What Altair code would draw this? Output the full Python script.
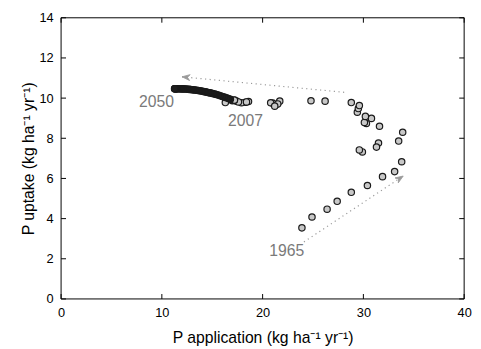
import altair as alt
import pandas as pd

# Historical (1965-2007) and projected (2008-2050) P application vs uptake
hist_x = [23.9, 24.9, 26.4, 27.4, 28.8, 30.4, 31.9, 33.1, 33.8, 33.5,
          33.9, 31.5, 31.3, 29.9, 29.6, 31.6, 30.8, 30.3, 30.1, 30.2,
          29.4, 29.5, 29.6, 28.8, 26.2, 24.8, 21.7, 21.3, 21.0, 21.5,
          20.8, 21.2, 18.6, 18.3, 17.9, 18.4, 17.4, 17.6, 16.3, 17.0,
          17.2, 16.9, 17.2]
hist_y = [3.54, 4.08, 4.47, 4.86, 5.31, 5.65, 6.09, 6.34, 6.83, 7.86,
          8.30, 7.76, 7.56, 7.32, 7.42, 8.60, 8.99, 8.74, 8.79, 9.09,
          9.30, 9.48, 9.63, 9.78, 9.85, 9.87, 9.85, 9.67, 9.75, 9.71,
          9.77, 9.60, 9.83, 9.79, 9.77, 9.81, 9.85, 9.81, 9.78, 9.87,
          9.89, 9.90, 9.90]
proj_x = [16.8, 16.6, 16.4, 16.2, 16.0, 15.8, 15.6, 15.4, 15.25, 15.1,
          14.95, 14.8, 14.65, 14.5, 14.35, 14.2, 14.05, 13.9, 13.75, 13.6,
          13.45, 13.3, 13.15, 13.0, 12.86, 12.72, 12.58, 12.44, 12.3, 12.17,
          12.04, 11.92, 11.8, 11.7, 11.6, 11.52, 11.45, 11.4, 11.36, 11.33,
          11.3, 11.28, 11.26]
proj_y = [9.94, 9.98, 10.02, 10.05, 10.08, 10.12, 10.15, 10.18, 10.20, 10.22,
          10.24, 10.26, 10.27, 10.29, 10.31, 10.32, 10.34, 10.35, 10.37, 10.38,
          10.39, 10.40, 10.41, 10.42, 10.43, 10.435, 10.44, 10.45, 10.45, 10.46,
          10.46, 10.46, 10.465, 10.47, 10.47, 10.47, 10.47, 10.47, 10.47, 10.47,
          10.47, 10.47, 10.47]

# Annotations
label_text = ["2050", "2007", "1965"]
label_x = [9.46, 18.3, 22.4]
label_y = [9.79, 8.86, 2.40]

# Dotted arrows (start, end)
arrow_id = ["up", "up", "low", "low"]
arrow_x = [28.3, 12.0, 24.1, 33.95]
arrow_y = [10.28, 11.06, 2.84, 6.12]
head_x = [12.0, 33.95]
head_y = [11.06, 6.12]
head_angle = [185.5, 326.4]

# Tick values
xvals = [0, 10, 20, 30, 40]
yvals = [0, 2, 4, 6, 8, 10, 12, 14]

pts = pd.DataFrame({
    "x": hist_x + proj_x,
    "y": hist_y + proj_y,
    "period": ["hist"] * len(hist_x) + ["proj"] * len(proj_x),
})
labels = pd.DataFrame({"t": label_text, "x": label_x, "y": label_y})
arrows = pd.DataFrame({"id": arrow_id, "x": arrow_x, "y": arrow_y})
heads = pd.DataFrame({"x": head_x, "y": head_y, "a": head_angle})
xt = pd.DataFrame({"x": xvals})
yt = pd.DataFrame({"y": yvals})
one = pd.DataFrame({"f": [0]})

W, H = 410, 286
TL = 5
FONT = "Liberation Sans"
xs = alt.Scale(domain=[0, 40], nice=False, zero=False)
ys = alt.Scale(domain=[0, 14], nice=False, zero=False)

ax_main_x = alt.Axis(values=xvals, ticks=False, domain=False, grid=False,
                     labelFlush=False, labelPadding=8, labelFontSize=13, labelColor="black",
                     labelFont=FONT, title="P application (kg ha⁻¹ yr⁻¹)", titleFont=FONT,
                     titleFontSize=16, titleFontWeight="normal", titleColor="black", titlePadding=10)
ax_main_y = alt.Axis(values=yvals, ticks=False, domain=False, grid=False,
                     labelPadding=8, labelFontSize=13, labelColor="black", labelFont=FONT,
                     title="P uptake (kg ha⁻¹ yr⁻¹)", titleFont=FONT, titleFontSize=16,
                     titleFontWeight="normal", titleColor="black", titlePadding=3)

X = alt.X("x:Q", scale=xs, axis=ax_main_x)
Y = alt.Y("y:Q", scale=ys, axis=ax_main_y)

points = alt.Chart(pts).mark_point(
    filled=True, size=42, stroke="#1a1a1a", strokeWidth=1.2, opacity=1
).encode(
    x=X, y=Y,
    fill=alt.Fill("period:N", scale=alt.Scale(domain=["hist", "proj"],
                                              range=["#c8c8c8", "#1e1e1e"]), legend=None),
)

lines = alt.Chart(arrows).mark_line(
    color="#9a9a9a", strokeWidth=1.2, strokeDash=[1.2, 3.5]
).encode(x=X, y=Y, detail="id:N")

heads_layer = alt.Chart(heads).mark_point(
    shape="M0,0L-2,-0.75L-1.4,0L-2,0.75Z", size=64, filled=True,
    fill="#9a9a9a", stroke="#9a9a9a", strokeWidth=0.8, opacity=1
).encode(x=X, y=Y, angle=alt.Angle("a:Q", scale=None))

texts = alt.Chart(labels).mark_text(
    font=FONT, fontSize=16, color="#7a7a7a", align="center", baseline="middle"
).encode(x=X, y=Y, text="t:N")

# Inward ticks on all four sides
tick_style = dict(color="black", strokeWidth=1)
xt_bottom = alt.Chart(xt).mark_rule(**tick_style).encode(
    x=X, y=alt.value(H), y2=alt.value(H - TL))
xt_top = alt.Chart(xt).mark_rule(**tick_style).encode(
    x=X, y=alt.value(0), y2=alt.value(TL))
yt_left = alt.Chart(yt).mark_rule(**tick_style).encode(
    y=Y, x=alt.value(0), x2=alt.value(TL))
yt_right = alt.Chart(yt).mark_rule(**tick_style).encode(
    y=Y, x=alt.value(W), x2=alt.value(W - TL))

frame = alt.Chart(one).mark_rect(fill=None, fillOpacity=0, stroke="black", strokeWidth=1).encode(
    x=alt.value(0), x2=alt.value(W), y=alt.value(0), y2=alt.value(H))

chart = alt.layer(
    frame, xt_bottom, xt_top, yt_left, yt_right, lines, heads_layer, points, texts
).properties(
    width=W, height=H,
    autosize=alt.AutoSizeParams(type="none"),
    padding={"left": 54, "top": 7, "right": 9, "bottom": 50},
).configure_view(stroke=None)

chart.save("out.html", embed_options={"renderer": "svg", "actions": False})
